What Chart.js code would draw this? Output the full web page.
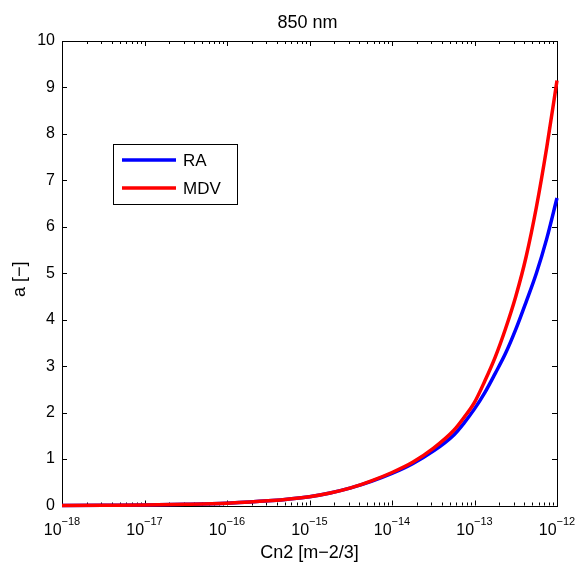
<!DOCTYPE html>
<html>
<head>
<meta charset="utf-8">
<script src="https://cdn.jsdelivr.net/npm/chart.js@4"></script>
<style>
	html, body { margin: 0; padding: 0; background: #fff; }
	#wrap { width: 577px; height: 563px; }
</style>
</head>
<body>
<div id="wrap"><canvas id="myChart" width="577" height="563"></canvas></div>
<script>
/* Data: exponent of Cn2 (10^e) and the two curves. */
const cn2Exponents = [-18, -17.5, -17, -16.5, -16, -15.5, -15, -14.75, -14.5, -14.25, -14, -13.75, -13.5, -13.25, -13.125, -13, -12.875, -12.75, -12.625, -12.5, -12.375, -12.25, -12.125, -12];
const raValues  = [0, 0.005, 0.01, 0.025, 0.05, 0.10, 0.19, 0.27, 0.38, 0.52, 0.69, 0.90, 1.17, 1.52, 1.78, 2.08, 2.43, 2.84, 3.27, 3.79, 4.38, 5.00, 5.74, 6.62];
const mdvValues = [0, 0.005, 0.01, 0.025, 0.05, 0.10, 0.19, 0.27, 0.38, 0.53, 0.71, 0.93, 1.23, 1.62, 1.90, 2.22, 2.68, 3.19, 3.80, 4.50, 5.35, 6.42, 7.70, 9.15];
const seriesNames = ['RA', 'MDV'];
const yTicks = [0, 1, 2, 3, 4, 5, 6, 7, 8, 9, 10];
const xDecades = [-18, -17, -16, -15, -14, -13, -12];

const titleText = '850 nm';
const xTitle = 'Cn2 [m\u22122/3]';
const yTitle = 'a [\u2212]';

// Colors
const raColor = 'rgb(0, 0, 255)';
const mdvColor = 'rgb(255, 0, 0)';
const fontFamily = "'Liberation Sans', Arial, sans-serif";

function toPoints(values) {
	return values.map((v, i) => ({ x: Math.pow(10, cn2Exponents[i]), y: v }));
}

/* Box, inward ticks, tick labels with exponents, titles and legend. */
const matlabAxes = {
	id: 'matlabAxes',
	beforeDatasetsDraw(chart) {
		const { ctx, chartArea: a, scales } = chart;
		const xs = scales.x;
		const ys = scales.y;
		ctx.save();
		ctx.strokeStyle = '#000';
		ctx.lineWidth = 1;
		ctx.strokeRect(Math.round(a.left) + 0.5, Math.round(a.top) + 0.5, Math.round(a.right - a.left), Math.round(a.bottom - a.top));

		ctx.beginPath();
		// y ticks, left and right
		yTicks.forEach((t) => {
			const py = Math.round(ys.getPixelForValue(t)) + 0.5;
			ctx.moveTo(a.left, py); ctx.lineTo(a.left + 5, py);
			ctx.moveTo(a.right, py); ctx.lineTo(a.right - 5, py);
		});
		// x ticks, major and minor, bottom and top
		xDecades.forEach((d, i) => {
			for (let m = 1; m <= 9; m++) {
				if (i === xDecades.length - 1 && m > 1) break;
				const px = Math.round(xs.getPixelForValue(m * Math.pow(10, d))) + 0.5;
				const len = m === 1 ? 5 : 3;
				ctx.moveTo(px, a.bottom); ctx.lineTo(px, a.bottom - len);
				ctx.moveTo(px, a.top); ctx.lineTo(px, a.top + len);
			}
		});
		ctx.stroke();
		ctx.restore();
	},
	afterDraw(chart) {
		const { ctx, chartArea: a, scales } = chart;
		const xs = scales.x;
		ctx.save();
		ctx.fillStyle = '#000';
		ctx.textBaseline = 'alphabetic';

		// x tick labels: 10 with raised exponent
		xDecades.forEach((d) => {
			const px = xs.getPixelForValue(Math.pow(10, d));
			const base = '10';
			const exp = '\u2212' + Math.abs(d);
			ctx.font = '16px ' + fontFamily;
			const wb = ctx.measureText(base).width;
			ctx.font = '11px ' + fontFamily;
			const we = ctx.measureText(exp).width;
			const x0 = px - (wb + we) / 2;
			ctx.textAlign = 'left';
			ctx.font = '16px ' + fontFamily;
			ctx.fillText(base, x0, a.bottom + 29);
			ctx.font = '11px ' + fontFamily;
			ctx.fillText(exp, x0 + wb, a.bottom + 19);
		});

		// titles
		ctx.textAlign = 'center';
		ctx.font = '18px ' + fontFamily;
		ctx.fillText(titleText, (a.left + a.right) / 2 - 2, 28);
		ctx.fillText(xTitle, (a.left + a.right) / 2, 558);
		ctx.save();
		ctx.translate(25, (a.top + a.bottom) / 2 + 6);
		ctx.rotate(-Math.PI / 2);
		ctx.fillText(yTitle, 0, 0);
		ctx.restore();

		// legend box
		const lx = 113, ly = 144, lw = 124, lh = 60;
		ctx.fillStyle = '#fff';
		ctx.fillRect(lx, ly, lw, lh);
		ctx.strokeStyle = '#000';
		ctx.lineWidth = 1;
		ctx.strokeRect(lx + 0.5, ly + 0.5, lw, lh);
		chart.data.datasets.forEach((ds, i) => {
			const rowY = ly + 16 + i * 28;
			ctx.strokeStyle = ds.borderColor;
			ctx.lineWidth = 3.5;
			ctx.beginPath();
			ctx.moveTo(lx + 9, rowY);
			ctx.lineTo(lx + 63, rowY);
			ctx.stroke();
			ctx.fillStyle = '#000';
			ctx.textAlign = 'left';
			ctx.font = '17px ' + fontFamily;
			ctx.fillText(ds.label, lx + 70, rowY + 6);
		});
		ctx.restore();
	},
};

const chartConfig = {
	type: 'line',
	data: {
		datasets: [
			// MDV is drawn on top of RA, as in the original plot
			{ label: seriesNames[0], data: toPoints(raValues), borderColor: raColor, order: 2 },
			{ label: seriesNames[1], data: toPoints(mdvValues), borderColor: mdvColor, order: 1 },
		],
	},
	options: {
		responsive: false,
		animation: false,
		layout: {
			padding: { top: 41, right: 20, left: 0, bottom: 0 },
		},
		elements: {
			point: { radius: 0 },
			line: { borderWidth: 3.5, cubicInterpolationMode: 'monotone', fill: false },
		},
		datasets: { line: { clip: 5 } },
		scales: {
			x: {
				type: 'logarithmic',
				min: 1e-18,
				max: 1e-12,
				grid: { display: false, drawTicks: false },
				border: { display: false },
				ticks: { display: false },
				afterFit: (s) => { s.height = 57.5; },
			},
			y: {
				min: 0,
				max: 10,
				grid: { display: false, drawTicks: false },
				border: { display: false },
				afterBuildTicks: (s) => { s.ticks = yTicks.map((v) => ({ value: v })); },
				ticks: {
					color: '#000',
					padding: 7,
					font: { family: fontFamily, size: 16 },
				},
				afterFit: (s) => { s.width = 62; },
			},
		},
		plugins: {
			legend: { display: false },
			tooltip: { enabled: false },
		},
	},
	plugins: [matlabAxes],
};

const myChart = new Chart(document.getElementById('myChart').getContext('2d'), chartConfig);
</script>
</body>
</html>
